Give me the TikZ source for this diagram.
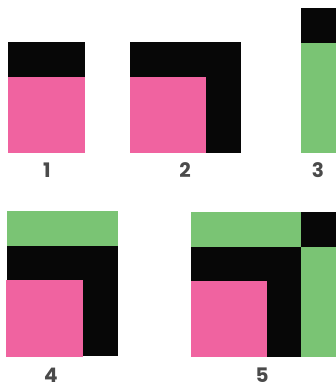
\documentclass[tikz,border=0pt]{standalone}
\usepackage{fontspec}
\usetikzlibrary{positioning}
\newfontfamily\numfont{Poppins}
\definecolor{pinkish}{HTML}{F063A0}
\definecolor{inkblack}{HTML}{070707}
\definecolor{leafgreen}{HTML}{7AC474}
\definecolor{labelgray}{HTML}{4A4A4A}
\tikzset{blk/.style={fill=inkblack,draw=none}, pnk/.style={fill=pinkish,draw=none}, grn/.style={fill=leafgreen,draw=none}, num/.style={text=labelgray,font=\numfont\bfseries\fontsize{20}{20}\selectfont,inner sep=0pt}}

\begin{document}
\begin{tikzpicture}[x=1pt,y=-1pt]
\useasboundingbox (0,0) rectangle (336,382);
% 1
\fill[blk] (8,42) rectangle (85,77);
\fill[pnk] (8,77) rectangle (85,153);
\node[num] (n1) at (47,170.5) {1};
% 2
\fill[blk] (130,42) rectangle (241,153);
\fill[pnk] (130,77) rectangle (206,153);
\node[num] (n2) at (185,170.5) {2};
% 3
\fill[blk] (301,8) rectangle (336,43);
\fill[grn] (301,43) rectangle (336,153);
\node[num] (n3) at (318,170.5) {3};
% 4
\fill[grn] (7,211) rectangle (118,246);
\fill[blk] (7,246) rectangle (118,356);
\fill[pnk] (6,280) rectangle (83,357);
\node[num] (n4) at (51,375.5) {4};
% 5
\fill[grn] (191,212) rectangle (301,247);
\fill[blk] (301,212) rectangle (336,247);
\fill[blk] (191,247) rectangle (301,357);
\fill[pnk] (191,281) rectangle (267,357);
\fill[grn] (301,247) rectangle (336,357);
\node[num] (n5) at (262,375.5) {5};
\end{tikzpicture}
\end{document}
